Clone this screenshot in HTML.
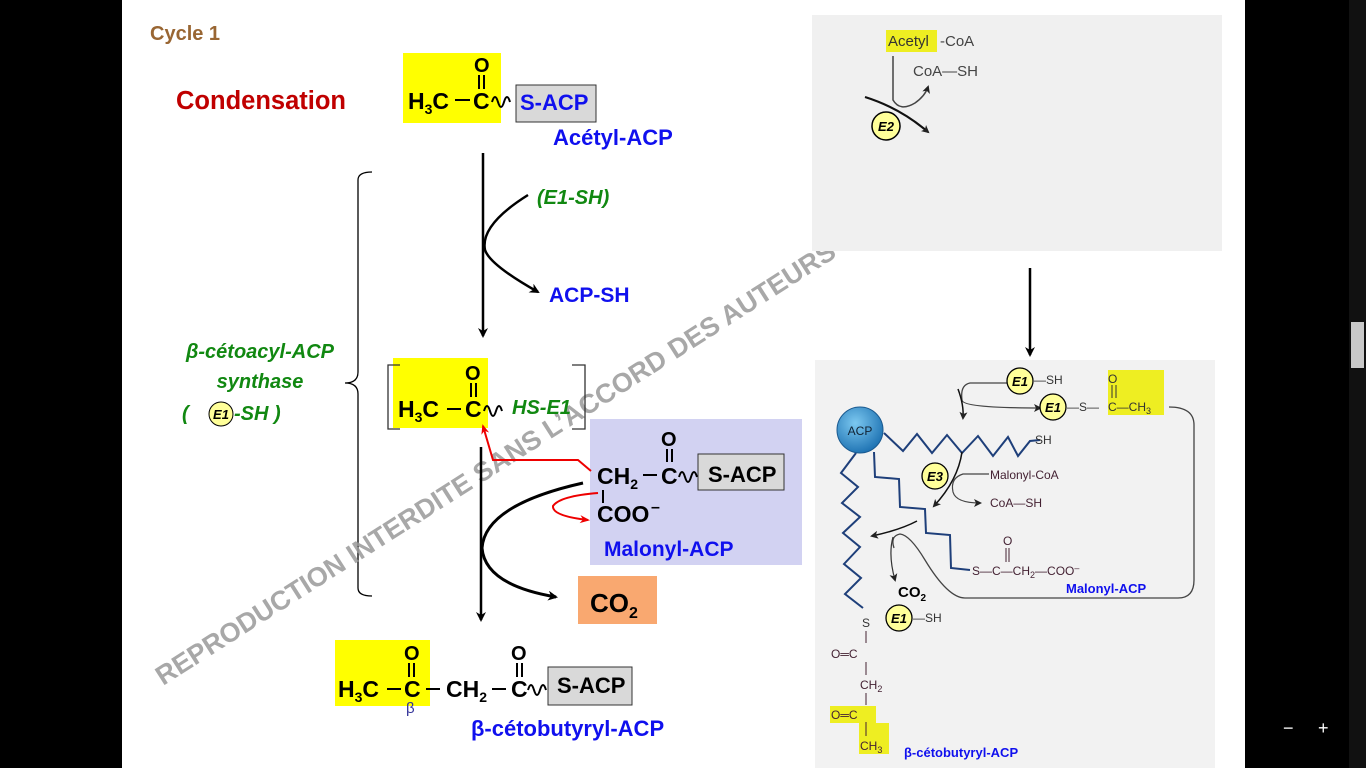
<!DOCTYPE html>
<html><head><meta charset="utf-8"><style>
html,body{margin:0;padding:0;background:#000;width:1366px;height:768px;overflow:hidden}
svg{display:block}
text{font-family:"Liberation Sans",sans-serif}
</style></head><body>
<svg width="1366" height="768" viewBox="0 0 1366 768" xmlns="http://www.w3.org/2000/svg">
<defs>
<marker id="ab" markerWidth="10" markerHeight="10" refX="8" refY="5" orient="auto" markerUnits="userSpaceOnUse"><path d="M0,0 L10,5 L0,10 L3,5 Z" fill="#000"/></marker>
<marker id="ar" markerWidth="10" markerHeight="10" refX="8" refY="5" orient="auto" markerUnits="userSpaceOnUse"><path d="M0,1 L10,5 L0,9 L3,5 Z" fill="#e00"/></marker>
<marker id="as" markerWidth="8" markerHeight="8" refX="6" refY="4" orient="auto" markerUnits="userSpaceOnUse"><path d="M0,0 L8,4 L0,8 L2,4 Z" fill="#222"/></marker>
<radialGradient id="acp" cx="0.4" cy="0.35" r="0.7"><stop offset="0" stop-color="#7cc8f0"/><stop offset="1" stop-color="#1a6fb0"/></radialGradient>
</defs>
<rect x="0" y="0" width="1366" height="768" fill="#000"/>
<rect x="122" y="0" width="1123" height="768" fill="#fff"/>
<rect x="1349" y="0" width="17" height="768" fill="#111"/>
<rect x="1351" y="322" width="13" height="46" fill="#c8c8c8"/>
<text x="1283" y="734" fill="#fff" font-size="18">−</text>
<text x="1318" y="734" fill="#fff" font-size="18">+</text>

<text x="150" y="40" font-size="20" font-weight="bold" fill="#996633">Cycle 1</text>
<text x="176" y="109" font-size="25.5" font-weight="bold" fill="#c00000">Condensation</text>

<!-- acetyl-ACP -->
<rect x="403" y="53" width="98" height="70" fill="#ffff00"/>
<rect x="516" y="85" width="80" height="37" fill="#d9d9d9" stroke="#333"/>
<text x="408" y="109" font-size="23" font-weight="bold">H<tspan font-size="14" dy="5">3</tspan><tspan dy="-5">C</tspan></text>
<line x1="455" y1="100" x2="470" y2="100" stroke="#000" stroke-width="2"/>
<text x="473" y="109" font-size="23" font-weight="bold">C</text>
<text x="474" y="72" font-size="20" font-weight="bold">O</text>
<line x1="479" y1="75" x2="479" y2="89" stroke="#000" stroke-width="2"/><line x1="484" y1="75" x2="484" y2="89" stroke="#000" stroke-width="2"/>
<path d="M492,102 q3,-10 6,0 q3,10 6,0 q3,-10 6,0" fill="none" stroke="#000" stroke-width="2"/>
<text x="520" y="110" font-size="22" font-weight="bold" fill="#1010ee">S-ACP</text>
<text x="553" y="145" font-size="22" font-weight="bold" fill="#1010ee">Acétyl-ACP</text>

<line x1="483" y1="153" x2="483" y2="336" stroke="#000" stroke-width="2.5" marker-end="url(#ab)"/>
<path d="M528,195 Q480,225 485,250 Q490,265 538,292" fill="none" stroke="#000" stroke-width="2.5" marker-end="url(#ab)"/>
<text x="537" y="204" font-size="20" font-weight="bold" font-style="italic" fill="#118811">(E1-SH)</text>
<text x="549" y="302" font-size="21" font-weight="bold" fill="#1010ee">ACP-SH</text>

<path d="M372,172 Q358,172 358,180 L358,372 Q358,383 345,383 Q358,383 358,394 L358,588 Q358,596 372,596" fill="none" stroke="#000" stroke-width="1.3"/>
<text x="260" y="358" font-size="20" font-weight="bold" font-style="italic" fill="#118811" text-anchor="middle">β-cétoacyl-ACP</text>
<text x="260" y="388" font-size="20" font-weight="bold" font-style="italic" fill="#118811" text-anchor="middle">synthase</text>
<text x="182" y="420" font-size="20" font-weight="bold" font-style="italic" fill="#118811">(</text>
<circle cx="221" cy="414" r="12" fill="#ffff99" stroke="#000"/>
<text x="221" y="419" font-size="13" font-weight="bold" font-style="italic" text-anchor="middle">E1</text>
<text x="234" y="420" font-size="20" font-weight="bold" font-style="italic" fill="#118811">-SH  )</text>

<!-- watermark (behind right panels) -->
<text x="0" y="0" font-size="27" font-weight="bold" fill="#999" fill-opacity="0.85" transform="translate(163,686) rotate(-32.5)">REPRODUCTION INTERDITE SANS L’ACCORD DES AUTEURS</text>

<rect x="393" y="358" width="95" height="70" fill="#ffff00"/>
<path d="M400,365 L388,365 L388,429 L400,429 M572,365 L585,365 L585,429 L572,429" fill="none" stroke="#333" stroke-width="1.3"/>
<text x="398" y="417" font-size="23" font-weight="bold">H<tspan font-size="14" dy="5">3</tspan><tspan dy="-5">C</tspan></text>
<line x1="447" y1="409" x2="461" y2="409" stroke="#000" stroke-width="2"/>
<text x="465" y="417" font-size="23" font-weight="bold">C</text>
<text x="465" y="380" font-size="20" font-weight="bold">O</text>
<line x1="471" y1="383" x2="471" y2="397" stroke="#000" stroke-width="2"/><line x1="476" y1="383" x2="476" y2="397" stroke="#000" stroke-width="2"/>
<path d="M484,411 q3,-10 6,0 q3,10 6,0 q3,-10 6,0" fill="none" stroke="#000" stroke-width="2"/>
<text x="512" y="414" font-size="20" font-weight="bold" font-style="italic" fill="#118811">HS-E1</text>

<rect x="590" y="419" width="212" height="146" fill="#d2d2f2"/>
<rect x="698" y="454" width="86" height="36" fill="#d9d9d9" stroke="#333"/>
<text x="597" y="484" font-size="23" font-weight="bold">CH<tspan font-size="14" dy="5">2</tspan></text>
<line x1="643" y1="475" x2="657" y2="475" stroke="#000" stroke-width="2"/>
<text x="661" y="484" font-size="23" font-weight="bold">C</text>
<text x="661" y="446" font-size="20" font-weight="bold">O</text>
<line x1="667" y1="449" x2="667" y2="462" stroke="#000" stroke-width="2"/><line x1="672" y1="449" x2="672" y2="462" stroke="#000" stroke-width="2"/>
<path d="M679,477 q3,-10 6,0 q3,10 6,0 q3,-10 6,0" fill="none" stroke="#000" stroke-width="2"/>
<text x="708" y="482" font-size="22" font-weight="bold">S-ACP</text>
<line x1="603" y1="490" x2="603" y2="503" stroke="#000" stroke-width="2"/>
<text x="597" y="522" font-size="23" font-weight="bold">COO</text>
<text x="651" y="512" font-size="16" font-weight="bold">–</text>
<text x="604" y="556" font-size="21" font-weight="bold" fill="#1010ee">Malonyl-ACP</text>

<path d="M591,471 L578,460 L493,460 L483,426" fill="none" stroke="#e00" stroke-width="2" marker-end="url(#ar)"/>
<path d="M598,493 Q560,496 553,506 Q552,516 588,520" fill="none" stroke="#e00" stroke-width="2" marker-end="url(#ar)"/>

<line x1="481" y1="447" x2="481" y2="620" stroke="#000" stroke-width="2.5" marker-end="url(#ab)"/>
<path d="M583,483 Q485,505 482,548 Q485,585 556,597" fill="none" stroke="#000" stroke-width="3" marker-end="url(#ab)"/>
<rect x="578" y="576" width="79" height="48" fill="#f9a870"/>
<text x="590" y="612" font-size="26" font-weight="bold">CO<tspan font-size="16" dy="6">2</tspan></text>

<rect x="335" y="640" width="95" height="66" fill="#ffff00"/>
<rect x="548" y="667" width="84" height="38" fill="#d9d9d9" stroke="#333"/>
<text x="338" y="697" font-size="23" font-weight="bold">H<tspan font-size="14" dy="5">3</tspan><tspan dy="-5">C</tspan></text>
<line x1="387" y1="689" x2="401" y2="689" stroke="#000" stroke-width="2"/>
<text x="404" y="697" font-size="23" font-weight="bold">C</text>
<text x="404" y="660" font-size="20" font-weight="bold">O</text>
<line x1="409" y1="663" x2="409" y2="677" stroke="#000" stroke-width="2"/><line x1="414" y1="663" x2="414" y2="677" stroke="#000" stroke-width="2"/>
<line x1="426" y1="689" x2="440" y2="689" stroke="#000" stroke-width="2"/>
<text x="446" y="697" font-size="23" font-weight="bold">CH<tspan font-size="14" dy="5">2</tspan></text>
<line x1="492" y1="689" x2="506" y2="689" stroke="#000" stroke-width="2"/>
<text x="511" y="697" font-size="23" font-weight="bold">C</text>
<text x="511" y="660" font-size="20" font-weight="bold">O</text>
<line x1="517" y1="663" x2="517" y2="677" stroke="#000" stroke-width="2"/><line x1="522" y1="663" x2="522" y2="677" stroke="#000" stroke-width="2"/>
<path d="M528,690 q3,-10 6,0 q3,10 6,0 q3,-10 6,0" fill="none" stroke="#000" stroke-width="2"/>
<text x="557" y="693" font-size="22" font-weight="bold">S-ACP</text>
<text x="406" y="713" font-size="15" fill="#333399">β</text>
<text x="471" y="736" font-size="22" font-weight="bold" fill="#1010ee">β-cétobutyryl-ACP</text>

<!-- right top panel -->
<rect x="812" y="15" width="410" height="236" fill="#f0f0f0"/>
<rect x="886" y="30" width="51" height="22" fill="#eeee22"/>
<text x="888" y="46" font-size="15" fill="#333">Acetyl</text>
<text x="940" y="46" font-size="15" fill="#444">-CoA</text>
<text x="913" y="76" font-size="15" fill="#444">CoA—SH</text>
<path d="M893,56 L893,100 Q900,112 915,103 Q925,96 928,87" fill="none" stroke="#444" stroke-width="1.5" marker-end="url(#as)"/>
<path d="M865,97 Q900,108 928,132" fill="none" stroke="#111" stroke-width="2.2" marker-end="url(#as)"/>
<circle cx="886" cy="126" r="14" fill="#ffff99" stroke="#000" stroke-width="1.5"/>
<text x="886" y="131" font-size="13" font-weight="bold" font-style="italic" text-anchor="middle">E2</text>

<line x1="1030" y1="268" x2="1030" y2="355" stroke="#000" stroke-width="2.5" marker-end="url(#ab)"/>

<!-- right bottom panel -->
<rect x="815" y="360" width="400" height="408" fill="#f2f2f2"/>
<g fill="none" stroke="#1e3f7a" stroke-width="2">
<path d="M884,433 L903,451 L917,434 L932,453 L947,435 L962,453 L978,436 L993,456 L1008,437 L1018,456 L1030,441 L1040,440"/>
<path d="M874,452 L875,477 L899,479 L900,507 L925,509 L926,533 L950,535 L951,568 L970,570"/>
<path d="M856,453 L841,473 L858,487 L842,503 L860,517 L843,533 L860,547 L844,564 L861,578 L845,594 L863,608"/>
</g>
<circle cx="860" cy="430" r="23" fill="url(#acp)" stroke="#1a5a90"/>
<text x="860" y="435" font-size="12" text-anchor="middle" fill="#123">ACP</text>
<text x="1035" y="444" font-size="12" fill="#333">SH</text>
<path d="M1007,383 L970,383 Q960,385 962,400 Q962,408 1040,408" fill="none" stroke="#444" stroke-width="1.3" marker-end="url(#as)"/>
<circle cx="1020" cy="381" r="13" fill="#ffff99" stroke="#000" stroke-width="1.3"/>
<text x="1020" y="386" font-size="13" font-weight="bold" font-style="italic" text-anchor="middle">E1</text>
<text x="1034" y="384" font-size="12" fill="#333">—SH</text>
<circle cx="1053" cy="407" r="13" fill="#ffff99" stroke="#000" stroke-width="1.3"/>
<text x="1053" y="412" font-size="13" font-weight="bold" font-style="italic" text-anchor="middle">E1</text>
<rect x="1108" y="370" width="56" height="45" fill="#eeee22"/>
<text x="1067" y="411" font-size="12" fill="#333">—S—</text>
<text x="1108" y="383" font-size="12" fill="#333">O</text>
<line x1="1112" y1="385" x2="1112" y2="398" stroke="#333"/><line x1="1116" y1="385" x2="1116" y2="398" stroke="#333"/>
<text x="1108" y="411" font-size="12" fill="#333">C—CH<tspan font-size="9" dy="3">3</tspan></text>
<path d="M1169,407 Q1194,407 1194,425 L1194,580 Q1194,598 1178,598 L965,598 Q948,598 925,560 Q910,535 900,534 Q890,536 894,548" fill="none" stroke="#444" stroke-width="1.3"/>
<path d="M958,389 Q964,405 963,418" fill="none" stroke="#111" stroke-width="1.5" marker-end="url(#as)"/>
<path d="M962,452 Q958,480 934,506" fill="none" stroke="#111" stroke-width="1.5" marker-end="url(#as)"/>
<circle cx="935" cy="476" r="13" fill="#ffff99" stroke="#000" stroke-width="1.3"/>
<text x="935" y="481" font-size="13" font-weight="bold" font-style="italic" text-anchor="middle">E3</text>
<path d="M989,474 L963,474 Q950,478 953,492 Q956,503 980,503" fill="none" stroke="#444" stroke-width="1.2" marker-end="url(#as)"/>
<text x="990" y="479" font-size="12" fill="#442233">Malonyl-CoA</text>
<text x="990" y="507" font-size="12" fill="#442233">CoA—SH</text>
<path d="M917,521 Q900,530 872,536" fill="none" stroke="#111" stroke-width="1.5" marker-end="url(#as)"/>
<path d="M893,537 Q888,555 895,580" fill="none" stroke="#333" stroke-width="1.2" marker-end="url(#as)"/>
<text x="972" y="575" font-size="12" fill="#442233">S—C—CH<tspan font-size="9" dy="3">2</tspan><tspan dy="-3">—COO</tspan><tspan font-size="9" dy="-4">–</tspan></text>
<text x="1003" y="545" font-size="12" fill="#442233">O</text>
<line x1="1006" y1="548" x2="1006" y2="562" stroke="#442233"/><line x1="1009" y1="548" x2="1009" y2="562" stroke="#442233"/>
<text x="1066" y="593" font-size="13" font-weight="bold" fill="#1010ee">Malonyl-ACP</text>
<text x="898" y="597" font-size="15" font-weight="bold">CO<tspan font-size="10" dy="4">2</tspan></text>
<circle cx="899" cy="618" r="13" fill="#ffff99" stroke="#000" stroke-width="1.3"/>
<text x="899" y="623" font-size="13" font-weight="bold" font-style="italic" text-anchor="middle">E1</text>
<text x="913" y="622" font-size="12" fill="#333">—SH</text>
<text x="862" y="627" font-size="12" fill="#333">S</text>
<line x1="866" y1="631" x2="866" y2="643" stroke="#442233"/>
<text x="831" y="658" font-size="12" fill="#442233">O═C</text>
<line x1="866" y1="662" x2="866" y2="675" stroke="#442233"/>
<text x="860" y="689" font-size="12" fill="#442233">CH<tspan font-size="9" dy="3">2</tspan></text>
<line x1="866" y1="693" x2="866" y2="705" stroke="#442233"/>
<path d="M830,706 L876,706 L876,723 L889,723 L889,754 L859,754 L859,723 L830,723 Z" fill="#eeee22"/>
<text x="831" y="719" font-size="12" fill="#442233">O═C</text>
<line x1="866" y1="722" x2="866" y2="736" stroke="#442233"/>
<text x="860" y="750" font-size="12" fill="#442233">CH<tspan font-size="9" dy="3">3</tspan></text>
<text x="904" y="757" font-size="13" font-weight="bold" fill="#1010ee">β-cétobutyryl-ACP</text>
</svg>
</body></html>
